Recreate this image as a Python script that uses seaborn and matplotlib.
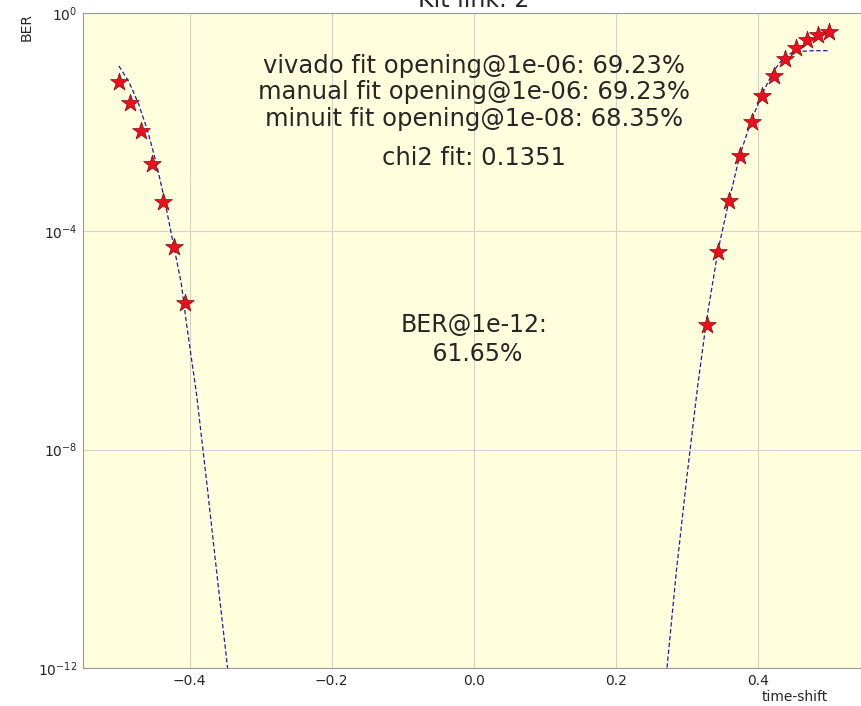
import matplotlib
matplotlib.use("Agg")
import matplotlib.pyplot as plt
import matplotlib.ticker as mticker
import seaborn as sns
import pandas as pd

# ---- data ----
left_x = [-0.5, -0.484, -0.469, -0.453, -0.4375, -0.422, -0.406]
left_ber = [0.0545, 0.0225, 0.0069, 0.0017, 3.5e-4, 5.2e-5, 4.9e-6]
right_x = [0.328, 0.344, 0.359, 0.375, 0.391, 0.406, 0.422, 0.4375, 0.453, 0.469, 0.484, 0.5]
right_ber = [1.9e-6, 4.2e-5, 3.65e-4, 2.45e-3, 9.9e-3, 0.0306, 0.0711, 0.144, 0.231, 0.32, 0.395, 0.455]

fit_left_x = [-0.4995, -0.4854, -0.4714, -0.4587, -0.4469, -0.4352, -0.4235, -0.4117,
              -0.4038, -0.39, -0.375, -0.36, -0.3465, -0.342]
fit_left_ber = [0.107, 0.055, 0.0209, 6.76e-3, 1.78e-3, 3.8e-4, 6.46e-5, 1.12e-5,
                1.82e-6, 1e-7, 2.0e-9, 3.5e-11, 1e-12, 3.2e-13]
fit_right_x = [0.268, 0.272, 0.285, 0.30, 0.315, 0.3277, 0.344, 0.3596, 0.3746, 0.391,
               0.4075, 0.4216, 0.4357, 0.4497, 0.478, 0.498]
fit_right_ber = [3.2e-13, 1e-12, 5.6e-11, 3.2e-9, 1.4e-7, 2.4e-6, 4.6e-5, 3.8e-4, 2.5e-3,
                 0.011, 0.036, 0.085, 0.148, 0.195, 0.204, 0.204]

title = "Kit link: 2"
info_lines = ["vivado fit opening@1e-06: 69.23%",
              "manual fit opening@1e-06: 69.23%",
              "minuit fit opening@1e-08: 68.35%"]
chi2_text = "chi2 fit: 0.1351"
ber_text = "BER@1e-12:\n 61.65%"
x_ticks = [-0.4, -0.2, 0.0, 0.2, 0.4]
y_ticks = [1e-12, 1e-8, 1e-4, 1e0]

# ---- style ----
sns.set_style("whitegrid", {"axes.facecolor": "#ffffde", "grid.color": "0.82",
                            "axes.edgecolor": "0.6"})
plt.rcParams["font.family"] = ["DejaVu Sans"]

fig = plt.figure(figsize=(8.62, 7.06), dpi=100)
ax = fig.add_axes([83 / 862, 38 / 706, 781.5 / 862, 655 / 706])

df_pts = pd.DataFrame({"x": left_x + right_x, "ber": left_ber + right_ber})
df_fl = pd.DataFrame({"x": fit_left_x, "ber": fit_left_ber})
df_fr = pd.DataFrame({"x": fit_right_x, "ber": fit_right_ber})

ax.set_yscale("log")
for d in (df_fl, df_fr):
    sns.lineplot(data=d, x="x", y="ber", ax=ax, color="#1c1ca0", lw=0.9,
                 linestyle="--", dashes=False, sort=False, estimator=None)
    ax.lines[-1].set_dashes([3.5, 2])
sns.scatterplot(data=df_pts, x="x", y="ber", ax=ax, marker="*", s=180,
                color="#ec0f1c", edgecolor="#8a0010", linewidth=0.5, zorder=5)

ax.set_xlim(-0.55, 0.55)
ax.set_ylim(1e-12, 1)
ax.set_xticks(x_ticks)
ax.set_yticks(y_ticks)
ax.yaxis.set_major_formatter(mticker.LogFormatterSciNotation())
ax.yaxis.set_minor_locator(mticker.NullLocator())
ax.tick_params(axis="both", labelsize=10, length=0, pad=4)

ax.set_title(title, fontsize=17, pad=4)
ax.set_xlabel("time-shift", fontsize=10, ha="right")
ax.xaxis.set_label_coords(0.953, -0.034)
ax.set_ylabel("BER", fontsize=10, loc="top")
ax.yaxis.set_label_coords(-0.063, 1.0)

ys = [0.919, 0.879, 0.838]
for t, y in zip(info_lines, ys):
    ax.text(0.5, y, t, transform=ax.transAxes, ha="center", va="center", fontsize=17.5)
ax.text(0.5, 0.779, chi2_text, transform=ax.transAxes, ha="center", va="center", fontsize=17.5)
ax.text(0.5, 0.502, ber_text, transform=ax.transAxes, ha="center", va="center",
        fontsize=17, multialignment="center", linespacing=1.25)

for s in ax.spines.values():
    s.set_visible(True)
    s.set_color("0.6")
ax.spines["right"].set_visible(False)

fig.savefig("out.png", dpi=100)
